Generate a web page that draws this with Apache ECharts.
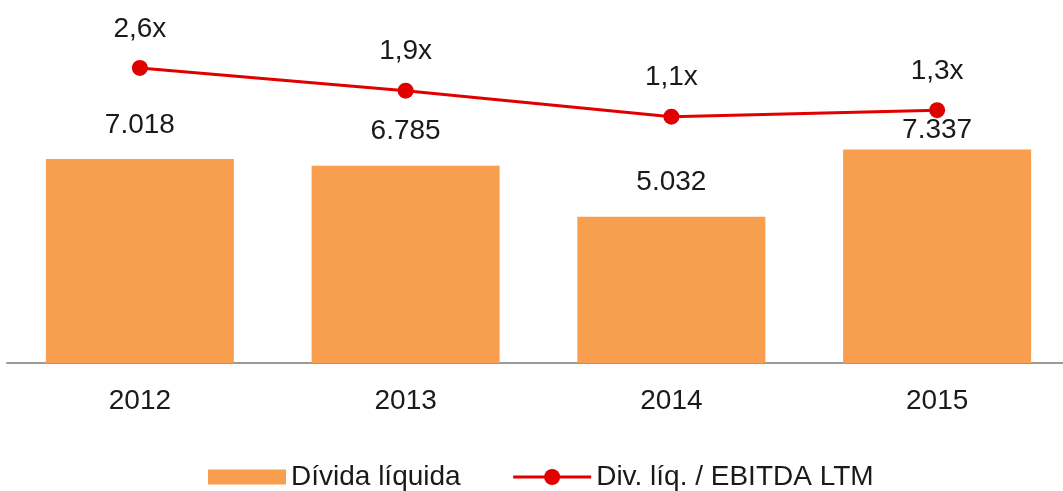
<!DOCTYPE html>
<html>
<head>
<meta charset="utf-8">
<script src="https://cdn.jsdelivr.net/npm/echarts@6/dist/echarts.min.js"></script>
<style>
html,body{margin:0;padding:0;background:#fff;overflow:hidden;width:1063px;height:491px;}
#chart{width:1078px;height:491px;}
</style>
</head>
<body>
<div id="chart"></div>
<script>
const categories = ['2012', '2013', '2014', '2015'];
const dividaLiquida = [7018, 6785, 5032, 7337];
const divEbitda = [2.6, 1.9, 1.1, 1.3];
const barName = 'Dívida líquida';
const lineName = 'Div. líq. / EBITDA LTM';

const FONT = '"Liberation Sans", Arial, sans-serif';
const TXT = '#1a1a1a';

const chart = echarts.init(document.getElementById('chart'), null, {renderer: 'canvas'});

const barData = dividaLiquida.map((v, i) => ({
  value: v,
  label: i === 3 ? {distance: 5} : undefined
}));

chart.setOption({
  animation: false,
  backgroundColor: '#ffffff',
  grid: {left: 7, right: 8, top: 14, bottom: 128, containLabel: false},
  legend: {
    left: 203, top: 458,
    itemWidth: 78, itemHeight: 20, itemGap: 51,
    textStyle: {fontFamily: FONT, fontSize: 28, color: TXT},
    data: [
      {name: barName, icon: 'path://M0,0L0.01,0M0,2.5L78,2.5L78,17.5L0,17.5Z M78,20L77.99,20'},
      {name: lineName, lineStyle: {width: 3}}
    ]
  },
  xAxis: {
    type: 'category',
    data: categories,
    axisLine: {show: true, lineStyle: {color: '#9a9a9a', width: 2}},
    axisTick: {show: false},
    axisLabel: {fontFamily: FONT, fontSize: 28, color: TXT, margin: 24}
  },
  yAxis: [
    {type: 'value', min: 0, max: 12000, show: false, splitLine: {show: false}},
    {type: 'value', min: -6.48, max: 4.26, show: false, splitLine: {show: false}}
  ],
  series: [
    {
      name: barName,
      type: 'bar',
      yAxisIndex: 0,
      barWidth: 188,
      itemStyle: {color: '#F79E4F'},
      label: {
        show: true, position: 'top', distance: 20,
        fontFamily: FONT, fontSize: 28, color: TXT,
        formatter: p => p.value.toLocaleString('de-DE')
      },
      data: barData
    },
    {
      name: lineName,
      type: 'line',
      yAxisIndex: 1,
      symbol: 'circle',
      symbolSize: 16,
      lineStyle: {color: '#E00000', width: 3},
      itemStyle: {color: '#E00000'},
      label: {
        show: true, position: 'top', distance: 17,
        fontFamily: FONT, fontSize: 28, color: TXT,
        formatter: p => p.value.toFixed(1).replace('.', ',') + 'x'
      },
      data: divEbitda
    }
  ]
});
</script>
</body>
</html>
